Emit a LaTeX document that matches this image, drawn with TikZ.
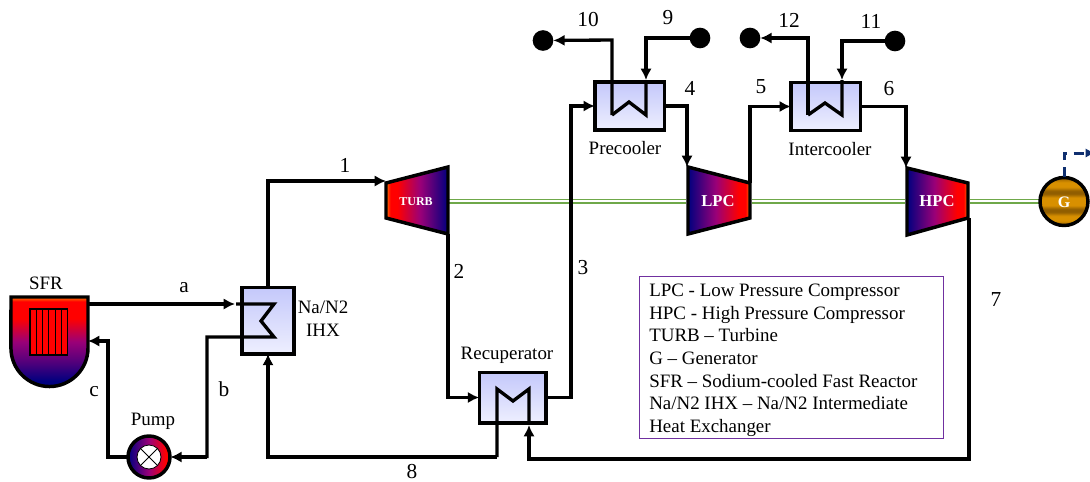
\documentclass[tikz,border=0pt]{standalone}
\usepackage{fontspec}
\setmainfont{Liberation Serif}
\usetikzlibrary{arrows.meta}
\definecolor{boxtop}{HTML}{C4C8FB}
\definecolor{boxbot}{HTML}{EEEFFE}
\definecolor{navyb}{HTML}{00007F}
\definecolor{midb}{HTML}{9A0078}
\definecolor{dashb}{HTML}{0F2F6F}
\definecolor{shaftg}{HTML}{6FA84A}
\definecolor{legendp}{HTML}{7030A0}
\definecolor{gold}{HTML}{D89000}
\definecolor{goldd}{HTML}{915E00}
\pgfdeclareverticalshading{sfrshade}{100bp}{color(0bp)=(navyb);color(28bp)=(navyb);color(39bp)=(navyb!45!midb);color(50bp)=(midb);color(63bp)=(red);color(72.5bp)=(red);color(75bp)=(orange);color(100bp)=(orange)}
\pgfdeclarehorizontalshading{turbshade}{100bp}{color(0bp)=(orange);color(25bp)=(orange);color(28.5bp)=(red);color(34bp)=(red);color(52.5bp)=(midb);color(75bp)=(navyb);color(100bp)=(navyb)}
\pgfdeclarehorizontalshading{compshade}{100bp}{color(0bp)=(navyb);color(25bp)=(navyb);color(47.5bp)=(midb);color(66bp)=(red);color(71.5bp)=(red);color(75bp)=(orange);color(100bp)=(orange)}
\pgfdeclarehorizontalshading{pumpshade}{100bp}{color(0bp)=(navyb);color(25bp)=(navyb);color(50bp)=(midb);color(70bp)=(red);color(100bp)=(red)}
\pgfdeclareverticalshading{genshade}{100bp}{color(0bp)=(goldd);color(25bp)=(goldd);color(30bp)=(gold);color(35bp)=(gold);color(39bp)=(goldd);color(42bp)=(goldd);color(46bp)=(gold);color(54bp)=(gold);color(58bp)=(goldd);color(61bp)=(goldd);color(65bp)=(gold);color(70bp)=(gold);color(75bp)=(goldd);color(100bp)=(goldd)}
\tikzset{
  pipe/.style={line width=2.5pt,line join=miter,line cap=butt},
  flow/.style={pipe,-{Latex[length=8.5pt,width=8.5pt]}},
  hxbox/.style={draw=black,line width=2.5pt,top color=boxtop,bottom color=boxbot,inner sep=0pt,outer sep=0pt},
  dotend/.style={circle,fill=black,minimum size=15.5pt,inner sep=0pt,outer sep=0pt},
  lab/.style={font=\fontsize{16pt}{18pt}\selectfont,inner sep=0pt},
  txt/.style={font=\fontsize{14.2pt}{16pt}\selectfont,inner sep=0pt},
  machine/.style={draw=black,line width=2.6pt,line join=miter},
  mlabel/.style={text=white,font=\fontsize{12.5pt}{14pt}\selectfont\bfseries,inner sep=0pt},
  shaftline/.style={draw=shaftg,line width=1pt}
}
\begin{document}
\begin{tikzpicture}[x=0.75pt,y=-0.75pt]
\useasboundingbox (0,0) rectangle (1090,482);
% shafts
\foreach \ya in {199.5,203}{
  \draw[shaftline] (449,\ya) -- (686,\ya);
  \draw[shaftline] (752,\ya) -- (905,\ya);
  \draw[shaftline] (970,\ya) -- (1039,\ya);
}
% coordinates
\coordinate (turbIn) at (386,181);
\coordinate (turbOut) at (448,234);
\coordinate (lpcIn) at (687,167);
\coordinate (lpcOut) at (750,183);
\coordinate (hpcIn) at (906,168);
\coordinate (hpcOut) at (969,218);
\coordinate (sfrOut) at (88,304);
\coordinate (sfrIn) at (88,341);
% exchangers
\node[hxbox,minimum width=39pt,minimum height=50pt] (ihx) at (268,320.5) {};
\node[hxbox,minimum width=50pt,minimum height=38pt] (rec) at (512.5,397.5) {};
\node[hxbox,minimum width=52pt,minimum height=36pt] (pre) at (629.5,106) {};
\node[hxbox,minimum width=52pt,minimum height=36pt] (int) at (825.5,106.5) {};
% SFR
\path[machine,shade,shading=sfrshade,draw] (11,297) -- (88,297) -- (88,348) arc[start angle=0,end angle=-180,radius=28.9pt] -- cycle;
\node[draw=black,line width=1pt,fill=red,minimum width=28pt,minimum height=34.5pt,inner sep=0pt] (core) at (48.5,332) {};
\foreach \xa in {36.3,42.6,48.9,55.2,61.5}{\draw[black,line width=.8pt] (\xa,309) -- (\xa,355);}
% machines
\path[machine,shade,shading=turbshade,draw] (386,183) -- (448,167) -- (448,234) -- (386,218) -- cycle;
\path[machine,shade,shading=compshade,draw] (688,167) -- (750,183) -- (750,218) -- (688,234) -- cycle;
\path[machine,shade,shading=compshade,draw] (907,168) -- (968,183) -- (968,218) -- (907,235) -- cycle;
\node[mlabel,font=\fontsize{9pt}{10pt}\selectfont\bfseries] (tl) at (416,201.5) {TURB};
\node[mlabel] (ll) at (718,201.5) {LPC};
\node[mlabel] (hl) at (937,201.5) {HPC};
% pump
\node[circle,minimum size=32pt,inner sep=0pt,outer sep=0pt] (pump) at (149,457) {};
\path[machine,shade,shading=pumpshade,draw] (pump.center) circle[radius=21pt*.75];
\node[circle,draw=black,line width=.6pt,fill=white,minimum size=18pt,inner sep=0pt] (pumpin) at (149,457) {};
\draw[black,line width=.6pt] (pumpin.north west) -- (pumpin.south east) (pumpin.north east) -- (pumpin.south west);
% generator
\node[circle,minimum size=37pt,inner sep=0pt,outer sep=0pt] (gen) at (1064,201.5) {};
\path[machine,shade,shading=genshade,draw] (gen.center) circle[radius=18pt];
\node[mlabel,font=\fontsize{12pt}{14pt}\selectfont\bfseries] (gl) at (1064,202) {G};
% dots
\node[dotend] (d10) at (543,40.5) {};
\node[dotend] (d9) at (700,38) {};
\node[dotend] (d12) at (750,38) {};
\node[dotend] (d11) at (895,41) {};
% coil junction coordinates
\coordinate (c1a) at (236,304); \coordinate (c1b) at (274,304); \coordinate (c1c) at (261,321); \coordinate (c1d) at (274,337);
\coordinate (c1e) at (207,337); \coordinate (ihxIn) at (235,304);
% connectors
\draw[flow] (sfrOut) -- (ihxIn);
\draw[pipe] (c1a) -- (c1b) -- (c1c) -- (c1d) -- (c1e) -- (207,458.2);
\draw[flow] (207,457) -- (pump.east);
\draw[flow] (pump.west) -- (108,457) |- (sfrIn);
\draw[flow] (ihx.north) |- (turbIn);
\draw[flow] (turbOut) |- (rec.west);
\draw[flow] (rec.east) -- (571,397.5) |- (pre.west);
\draw[flow] (pre.east) -| (lpcIn);
\draw[flow] (lpcOut) |- (int.west);
\draw[flow] (int.east) -| (hpcIn);
% precooler coil
\draw[flow] (612,115) -- (612,40) -- (d10);
\draw[pipe] (612,115) -- (629,102) -- (646,115) -- (646,80);
\draw[flow] (d9) -- (646,38) -- (646,80);
% intercooler coil
\draw[flow] (808,115) -- (808,38) -- (d12);
\draw[pipe] (808,115) -- (825,103) -- (842,115) -- (842,80);
\draw[flow] (d11) -- (842,41) -- (842,80);
% recuperator coil
\coordinate (recA) at (497,389); \coordinate (recB) at (513,401); \coordinate (recC) at (529,389);
\draw[pipe] (529,423) -- (recC) -- (recB) -- (recA) -- (497,457);
\draw[flow] (497,457) -- (268,457) -- (ihx.south);
\draw[flow] (hpcOut) -- (969,459) -- (529,459) -- (529,425);
% generator line
\coordinate (genTop) at (1064,153);
\coordinate (genEnd) at (1095,153);
\draw[dashb,line width=2.25pt,dash pattern=on 7.5pt off 5pt,-{Latex[length=7pt,width=7pt]}] (gen.north) -- (genTop) -- (genEnd);
% legend
\node[draw=legendp,line width=.7pt,minimum width=228pt,minimum height=121pt,inner sep=0pt] (leg) at (791,357.5) {};
\foreach \ya/\t in {296/{LPC - Low Pressure Compressor},319/{HPC - High Pressure Compressor},341/{TURB – Turbine},364/{G – Generator},387/{SFR – Sodium-cooled Fast Reactor},409/{Na/N2 IHX – Na/N2 Intermediate},432/{Heat Exchanger}}
  {\node[txt,anchor=base west] at (649,\ya) {\t};}
% labels
\node[lab] (l1) at (345,165) {1};
\node[lab] (la) at (184,288) {a};
\node[lab] (l2) at (459,271) {2};
\node[lab] (l3) at (583,268) {3};
\node[lab] (l4) at (690,88) {4};
\node[lab] (l5) at (761,87) {5};
\node[lab] (l6) at (889,89) {6};
\node[lab] (l7) at (996,300) {7};
\node[lab] (l8) at (412,472) {8};
\node[lab] (l9) at (668,18) {9};
\node[lab] (l10) at (588,20) {10};
\node[lab] (l11) at (871,21) {11};
\node[lab] (l12) at (789,20) {12};
\node[lab] (lb) at (224,389) {b};
\node[lab] (lc) at (94,392) {c};
\node[txt] (tsfr) at (46,283) {SFR};
\node[txt] (tpump) at (153,421) {Pump};
\node[txt] (tna) at (323,307) {Na/N2};
\node[txt] (tihx) at (323,330) {IHX};
\node[txt] (tpre) at (625,148) {Precooler};
\node[txt] (tint) at (830,149) {Intercooler};
\node[txt] (trec) at (507,355) {Recuperator};
\end{tikzpicture}
\end{document}
